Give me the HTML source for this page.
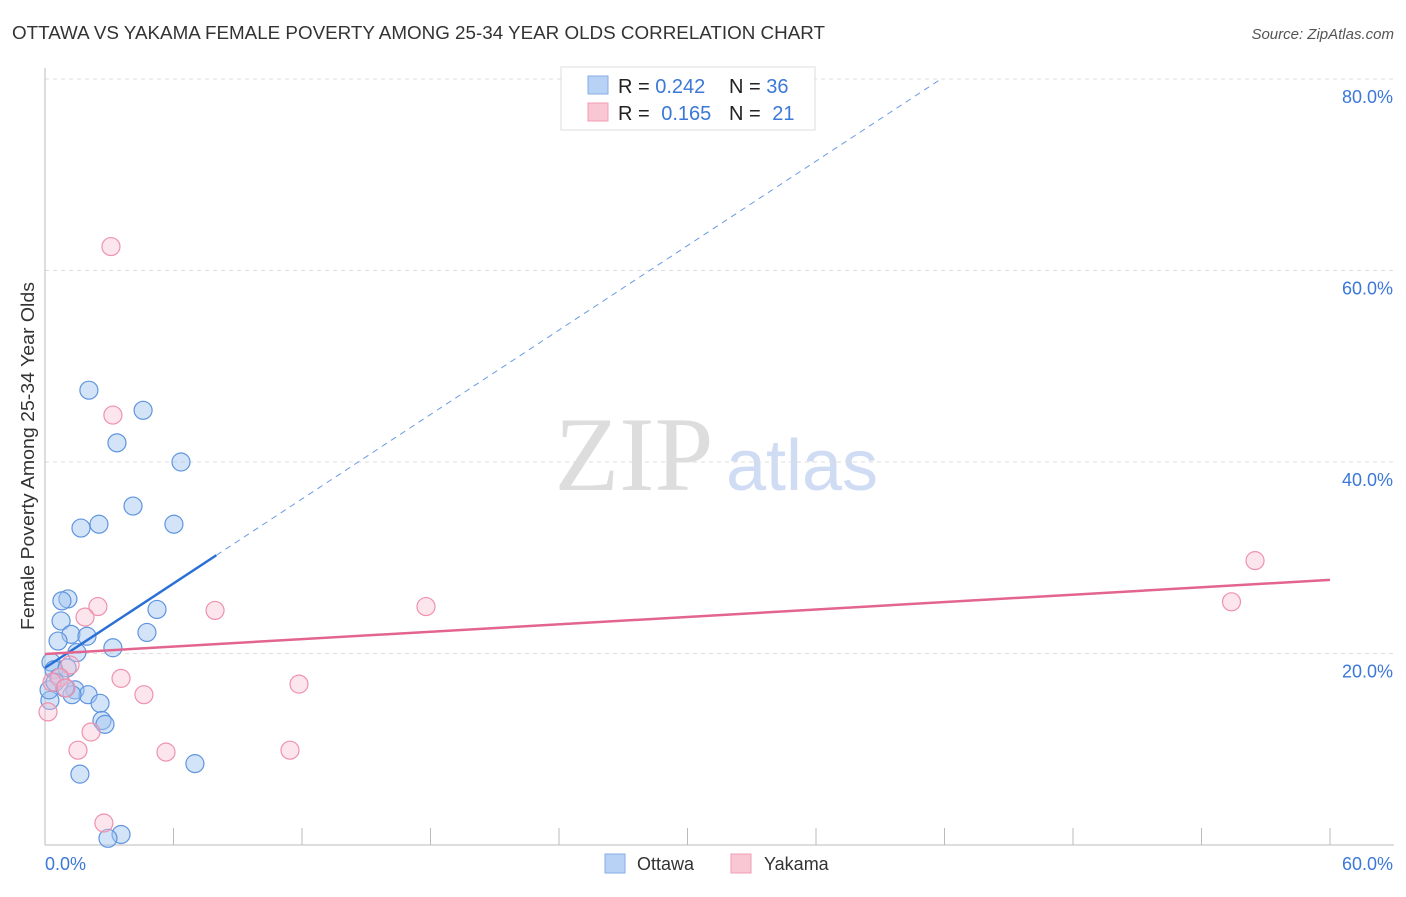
<!DOCTYPE html>
<html><head><meta charset="utf-8"><style>
body{margin:0;background:#fff;font-family:"Liberation Sans",sans-serif;}
svg text{font-family:"Liberation Sans",sans-serif;}
</style></head><body>
<svg id="chart" width="1406" height="892">
<text x="12" y="39" font-size="18" fill="#333" textLength="813" lengthAdjust="spacingAndGlyphs">OTTAWA VS YAKAMA FEMALE POVERTY AMONG 25-34 YEAR OLDS CORRELATION CHART</text>
<text x="1394" y="39" font-size="15" fill="#555" font-style="italic" text-anchor="end">Source: ZipAtlas.com</text>
<text transform="translate(34,456) rotate(-90)" font-size="18" fill="#333" text-anchor="middle" textLength="348" lengthAdjust="spacingAndGlyphs">Female Poverty Among 25-34 Year Olds</text>
<g>
<text x="634" y="490" font-size="106" fill="#ddd" text-anchor="middle" style="font-family:'Liberation Serif',serif">ZIP</text>
<text x="802" y="490" font-size="72" fill="#cfdcf3" text-anchor="middle">atlas</text>
</g>
<g id="grid"></g><g id="axes"></g><g id="marks"></g>
<g>
<rect x="561" y="67" width="254" height="63" fill="#fff" stroke="#ddd"/>
<rect x="588" y="76" width="20" height="18" fill="#b8d2f5" stroke="#86aee6"/>
<text x="618" y="93" font-size="20" fill="#222">R = <tspan fill="#3b78d8">0.242</tspan></text>
<text x="729" y="93" font-size="20" fill="#222">N = <tspan fill="#3b78d8">36</tspan></text>
<rect x="588" y="103" width="20" height="18" fill="#f9c6d4" stroke="#ef9db5"/>
<text x="618" y="120" font-size="20" fill="#222">R = <tspan fill="#3b78d8" dx="6">0.165</tspan></text>
<text x="729" y="120" font-size="20" fill="#222">N = <tspan fill="#3b78d8" dx="6">21</tspan></text>
</g>
<g>
<rect x="605" y="854" width="20" height="19" fill="#b8d2f5" stroke="#86aee6"/>
<text x="637" y="870" font-size="18" fill="#333">Ottawa</text>
<rect x="731" y="854" width="20" height="19" fill="#f9c6d4" stroke="#ef9db5"/>
<text x="764" y="870" font-size="18" fill="#333">Yakama</text>
</g>
</svg>
<script>
const ottawaX=[2.05,4.58,3.36,6.35,4.11,1.68,2.52,6.02,1.07,0.79,0.75,5.23,4.76,1.21,1.96,0.61,3.17,1.49,0.28,0.42,1.03,0.65,1.40,2.01,1.26,2.57,2.66,2.80,1.63,7.0,3.55,2.94,0.23,0.19,0.47,0.93];
const ottawaY=[47.5,45.4,42.0,40.0,35.4,33.1,33.5,33.5,25.7,25.5,23.4,24.6,22.2,22.0,21.8,21.3,20.6,20.1,19.1,18.3,18.5,17.5,16.2,15.7,15.7,14.8,13.0,12.6,7.4,8.5,1.1,0.7,15.1,16.2,17.0,16.4];
const yakamaX=[3.08,3.17,2.47,1.87,7.94,17.79,55.4,56.5,1.17,3.55,4.62,11.86,0.70,0.33,1.54,2.15,5.65,11.44,2.75,0.14,0.98];
const yakamaY=[62.5,44.9,24.9,23.8,24.5,24.9,25.4,29.7,18.8,17.4,15.7,16.8,17.5,17.0,9.9,11.8,9.7,9.9,2.3,13.9,16.4];
const yTicks=[20,40,60,80];
const xTickLabels=["0.0%","60.0%"];
const ottawaTrend=[18.5,1.47];
const yakamaTrend=[19.95,0.129];
const NS="http://www.w3.org/2000/svg";
const xs=v=>45+v*1285/60, ys=v=>845-v*766/80;
function mk(tag,attrs,parent){const e=document.createElementNS(NS,tag);for(const k in attrs)e.setAttribute(k,attrs[k]);document.getElementById(parent).appendChild(e);return e;}
yTicks.forEach(t=>{
 const l=mk('line',{x1:45,x2:1394,y1:ys(t),y2:ys(t),stroke:'#ddd','stroke-dasharray':'4,4'},'grid');
 
 
 const tx=mk('text',{x:1393,y:ys(t)+24,'font-size':18,fill:'#3b78d8','text-anchor':'end'},'grid');tx.textContent=t.toFixed(1)+'%';
 
 
});
mk('line',{x1:45,x2:45,y1:68,y2:845,stroke:'#bbb'},'axes');
mk('line',{x1:45,x2:1394,y1:845,y2:845,stroke:'#bbb'},'axes');
for(let i=1;i<=10;i++){mk('line',{x1:xs(i*6),x2:xs(i*6),y1:828,y2:845,stroke:'#bbb'},'axes');}
const xl0=mk('text',{x:45,y:870,'font-size':18,fill:'#3b78d8'},'axes');xl0.textContent=xTickLabels[0];


const xl1=mk('text',{x:1393,y:870,'font-size':18,fill:'#3b78d8','text-anchor':'end'},'axes');xl1.textContent=xTickLabels[1];


ottawaX.forEach((x,i)=>{const c=mk('circle',{cx:xs(x),cy:ys(ottawaY[i]),r:9,fill:'rgba(160,195,240,0.45)',stroke:'#5f95df','stroke-width':1.2},'marks');
 
 });
yakamaX.forEach((x,i)=>{const c=mk('circle',{cx:xs(x),cy:ys(yakamaY[i]),r:9,fill:'rgba(248,190,208,0.4)',stroke:'#ee92ad','stroke-width':1.2},'marks');
 
 });
const t1=mk('line',{x1:xs(0),y1:ys(ottawaTrend[0]),x2:xs(8),y2:ys(ottawaTrend[0]+8*ottawaTrend[1]),stroke:'#2a6fd6','stroke-width':2.5},'marks');


const xe=(80-ottawaTrend[0])/ottawaTrend[1];
const t2=mk('line',{x1:xs(8),y1:ys(ottawaTrend[0]+8*ottawaTrend[1]),x2:xs(xe),y2:ys(80),stroke:'#6a9be3','stroke-width':1,'stroke-dasharray':'6,5'},'marks');


const t3=mk('line',{x1:xs(0),y1:ys(yakamaTrend[0]),x2:xs(60),y2:ys(yakamaTrend[0]+60*yakamaTrend[1]),stroke:'#e2648f','stroke-width':2.5},'marks');


</script>
</body></html>
